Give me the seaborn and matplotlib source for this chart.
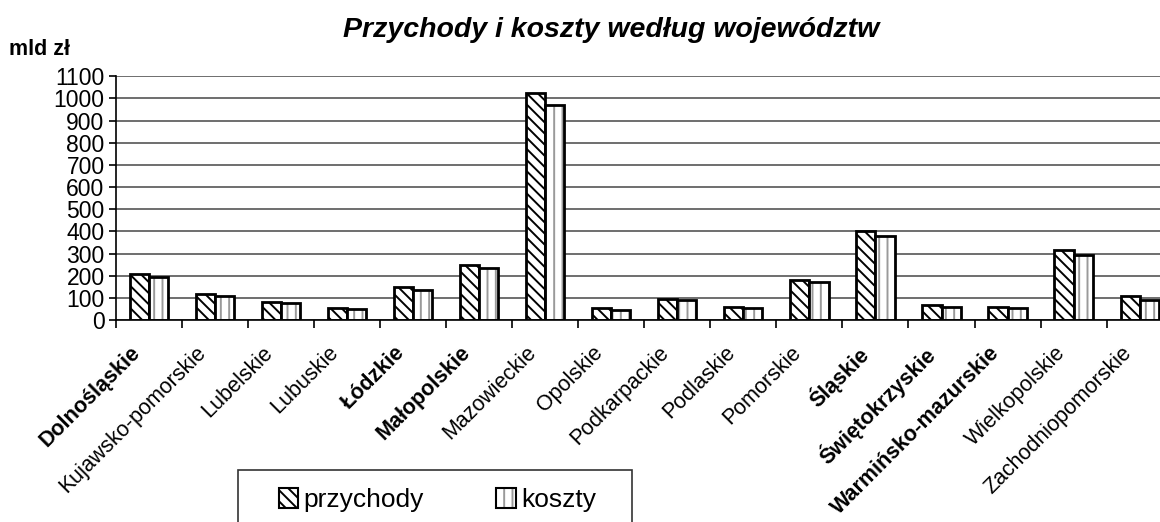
import matplotlib
matplotlib.use("Agg")
import matplotlib.pyplot as plt
import matplotlib.transforms as mtransforms
import seaborn as sns
import pandas as pd
import numpy as np
from matplotlib.patches import Rectangle

wojewodztwa = ["Dolnośląskie", "Kujawsko-pomorskie", "Lubelskie", "Lubuskie", "Łódzkie",
               "Małopolskie", "Mazowieckie", "Opolskie", "Podkarpackie", "Podlaskie",
               "Pomorskie", "Śląskie", "Świętokrzyskie", "Warmińsko-mazurskie",
               "Wielkopolskie", "Zachodniopomorskie"]
bold_labels = ["Dolnośląskie", "Łódzkie", "Małopolskie", "Śląskie", "Świętokrzyskie",
               "Warmińsko-mazurskie"]
przychody = [209, 118, 82, 56, 147, 247, 1025, 53, 95, 59, 180, 403, 68, 60, 316, 107]
koszty = [194, 109, 76, 51, 135, 235, 972, 47, 92, 54, 170, 379, 60, 54, 293, 89]
series = ["przychody", "koszty"]
y_ticks = list(range(0, 1101, 100))

sns.set_theme(style="white")
plt.rcParams['font.family'] = ['Liberation Sans', 'DejaVu Sans']
plt.rcParams['hatch.linewidth'] = 1.4
for k in ['text.color', 'xtick.color', 'ytick.color', 'axes.labelcolor']:
    plt.rcParams[k] = 'black'

df = pd.DataFrame({
    "woj": wojewodztwa * 2,
    "val": przychody + koszty,
    "seria": [series[0]] * len(wojewodztwa) + [series[1]] * len(wojewodztwa),
})

fig = plt.figure(figsize=(11.6, 5.22), dpi=100)
ax = fig.add_axes([0.0997, 0.387, 1.011 - 0.0997, 0.854 - 0.387])

sns.barplot(data=df, x="woj", y="val", hue="seria", order=wojewodztwa, hue_order=series,
            palette=["white", "white"], edgecolor="black", linewidth=2.0,
            width=0.58, gap=0, saturation=1, ax=ax, legend=False)

hatches = ['\\\\\\', '||']
hatch_colors = ["black", "#9a9a9a"]
for cont, h, hc in zip(ax.containers, hatches, hatch_colors):
    for bar in cont:
        bar.set_hatch(h)
        bar.set_edgecolor(hc)
        if hc != "black":
            bar.set_linewidth(0)
            ax.add_patch(Rectangle(bar.get_xy(), bar.get_width(), bar.get_height(),
                                   fill=False, edgecolor="black", linewidth=2.0,
                                   zorder=bar.get_zorder() + 0.1))

ax.set_ylim(0, 1100)
ax.set_xlim(-0.5, len(wojewodztwa) - 0.5)
ax.set_yticks(y_ticks)
ax.set_yticklabels([str(v) for v in y_ticks], fontsize=16.5)
ax.yaxis.grid(True, color="#555555", linewidth=1.2)
ax.set_axisbelow(True)
for s in ["top", "right"]:
    ax.spines[s].set_visible(False)
ax.spines["left"].set_color("black")
ax.spines["bottom"].set_color("black")
ax.spines["left"].set_linewidth(1.2)
ax.spines["bottom"].set_linewidth(1.2)
ax.tick_params(axis="y", left=True, length=5, width=1.2, color="black", pad=3)
ax.set_xticks(np.arange(len(wojewodztwa)))
ax.set_xticks(np.arange(len(wojewodztwa)) - 0.5, minor=True)
ax.tick_params(axis="x", which="major", bottom=False, pad=10)
ax.tick_params(axis="x", which="minor", bottom=True, length=6, width=1.2, color="black")
ax.set_xticklabels(wojewodztwa, rotation=45, ha="right", rotation_mode="anchor", fontsize=15.5)
offset = mtransforms.ScaledTranslation(-0.19, 0, fig.dpi_scale_trans)
for lbl in ax.get_xticklabels():
    if lbl.get_text() in bold_labels:
        lbl.set_fontweight("bold")
    lbl.set_transform(lbl.get_transform() + offset)
ax.set_xlabel("")
ax.set_ylabel("")

fig.text(0.527, 0.942, "Przychody i koszty według województw", ha="center", va="center",
         fontsize=20.5, fontweight="bold", fontstyle="italic")
fig.text(0.008, 0.905, "mld zł", ha="left", va="center", fontsize=15.5, fontweight="bold")

# legend
fig.patches.append(Rectangle((0.205, -0.05), 0.34, 0.15, transform=fig.transFigure,
                             facecolor="white", edgecolor="#333333", linewidth=1.2))
handles = []
for h, hc in zip(hatches, hatch_colors):
    fill = Rectangle((0, 0), 1, 1, facecolor="white", edgecolor=hc, linewidth=0, hatch=h)
    outline = Rectangle((0, 0), 1, 1, fill=False, edgecolor="black", linewidth=1.5)
    handles.append((fill, outline))
fig.legend(handles, series, loc="center", bbox_to_anchor=(0.377, 0.042), ncol=2,
           frameon=False, fontsize=19, handlelength=0.75, handleheight=0.75,
           handletextpad=0.2, columnspacing=2.73)

fig.savefig("out.png", dpi=100)
